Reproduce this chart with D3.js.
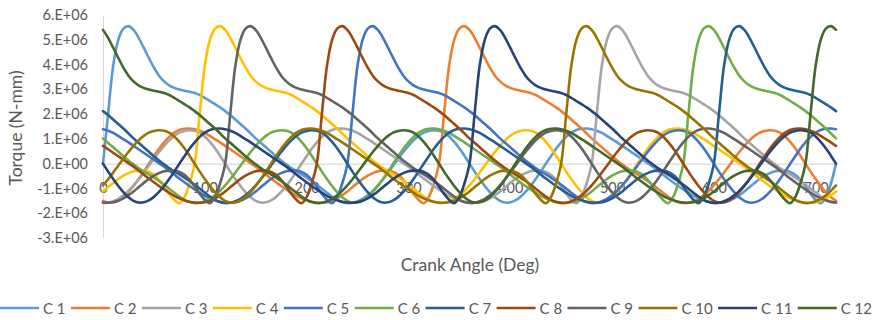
<!DOCTYPE html>
<html>
<head>
<meta charset="utf-8">
<script src="https://cdn.jsdelivr.net/npm/d3@7"></script>
<style>
  html, body { margin: 0; padding: 0; background: #ffffff; }
  svg { display: block; font-family: Lato, "Open Sans", "Noto Sans", sans-serif; }
</style>
</head>
<body>
<svg id="chart" width="877" height="320"></svg>
<script>
// Cylinder names and their series colours
const cylinders = ["C 1", "C 2", "C 3", "C 4", "C 5", "C 6", "C 7", "C 8", "C 9", "C 10", "C 11", "C 12"];
const seriesColors = ["#5B9BD5", "#ED7D31", "#A5A5A5", "#FFC000", "#4472C4", "#70AD47",
                      "#255E91", "#9E480E", "#636363", "#997300", "#264478", "#43682B"];

// Firing TDC of each cylinder (deg crank angle), same order as cylinders
const firingAngles = [0, 330, 480, 90, 240, 570, 600, 210, 120, 450, 360, 690];

// Single-cylinder torque over one 720 deg cycle, every 5 deg from firing TDC (x 1e6 N-mm)
const profileStep = 5;
const torqueProfile = [
   0.00,  2.00,  3.95,  5.00,  5.45,  5.55,  5.40,  5.08,  4.68,  4.27,  3.88,  3.55,
   3.32,  3.16,  3.06,  2.99,  2.94,  2.90,  2.85,  2.77,  2.66,  2.53,  2.40,  2.27,
   2.12,  1.96,  1.78,  1.60,  1.42,  1.22,  1.02,  0.84,  0.66,  0.48,  0.30,  0.13,
  -0.03, -0.18, -0.31, -0.43, -0.56, -0.70, -0.85, -1.01, -1.17, -1.33, -1.46, -1.55,
  -1.59, -1.58, -1.52, -1.42, -1.28, -1.10, -0.88, -0.63, -0.36, -0.08,  0.20,  0.47,
   0.72,  0.94,  1.12,  1.25,  1.32,  1.35,  1.33,  1.25,  1.10,  0.88,  0.62,  0.32,
   0.00, -0.32, -0.62, -0.90, -1.15, -1.36, -1.50, -1.57, -1.56, -1.48, -1.34, -1.14,
  -0.90, -0.62, -0.32,  0.00,  0.30,  0.60,  0.86,  1.08,  1.25,  1.36,  1.41,  1.42,
   1.39,  1.33,  1.24,  1.12,  0.99,  0.86,  0.72,  0.58,  0.44,  0.30,  0.16,  0.02,
  -0.12, -0.28, -0.44, -0.60, -0.75, -0.90, -1.04, -1.17, -1.30, -1.40, -1.48, -1.54,
  -1.57, -1.58, -1.56, -1.50, -1.40, -1.27, -1.12, -0.95, -0.78, -0.62, -0.48, -0.38,
  -0.31, -0.28, -0.28, -0.33, -0.45, -0.65, -0.92, -1.22, -1.46, -1.60, -1.35, -0.80
];
const torqueUnit = 1e6;

// Crank angles plotted on the x axis
const crankAngles = d3.range(0, 721, profileStep);

// Axis ticks
const xTickValues = [0, 100, 200, 300, 400, 500, 600, 700];
const yTickValues = [-3e6, -2e6, -1e6, 0, 1e6, 2e6, 3e6, 4e6, 5e6, 6e6];
const yTickLabels = ["-3.E+06", "-2.E+06", "-1.E+06", "0.E+00", "1.E+06",
                     "2.E+06", "3.E+06", "4.E+06", "5.E+06", "6.E+06"];

const xTitle = "Crank Angle (Deg)";
const yTitle = "Torque (N-mm)";

// ---- build series ----
const series = cylinders.map((name, i) => ({
  name,
  color: seriesColors[i],
  values: crankAngles.map(a => {
    const rel = ((a - firingAngles[i]) % 720 + 720) % 720;
    return { angle: a, torque: torqueProfile[rel / profileStep] * torqueUnit };
  })
}));

// ---- scales ----
const svg = d3.select("#chart");
const textColor = "#595959";
const axisColor = "#D9D9D9";
const fontStack = "Lato, 'Open Sans', sans-serif";

const x = d3.scaleLinear().domain([0, 720]).range([103, 836]);
const y = d3.scaleLinear().domain([-3e6, 6e6]).range([238, 15]);

// ---- y axis ----
const yAxis = svg.append("g")
  .attr("transform", `translate(${x(0)},0)`)
  .call(d3.axisLeft(y).tickValues(yTickValues)
    .tickFormat((d, i) => yTickLabels[i]).tickSize(0).tickPadding(15));
yAxis.select(".domain").attr("stroke", axisColor).attr("stroke-width", 1);
yAxis.selectAll("text").attr("fill", textColor).style("font-size", "14.5px")
  .style("font-family", fontStack);

// ---- x axis (crosses at zero) ----
const xAxis = svg.append("g")
  .attr("transform", `translate(0,${y(0)})`)
  .call(d3.axisBottom(x).tickValues(xTickValues).tickFormat(d3.format("d"))
    .tickSize(0).tickPadding(19));
xAxis.select(".domain").attr("stroke", axisColor).attr("stroke-width", 1.3);
xAxis.selectAll("text").attr("fill", textColor).style("font-size", "14.5px")
  .style("font-family", fontStack);

// ---- torque curves ----
const line = d3.line()
  .x(d => x(d.angle))
  .y(d => y(d.torque))
  .curve(d3.curveCatmullRom.alpha(0.5));

svg.append("g").selectAll("path")
  .data(series)
  .join("path")
  .attr("fill", "none")
  .attr("stroke", d => d.color)
  .attr("stroke-width", 2.6)
  .attr("stroke-linejoin", "round")
  .attr("stroke-linecap", "round")
  .attr("d", d => line(d.values));

// ---- axis titles ----
svg.append("text")
  .attr("transform", "translate(15,128) rotate(-90)")
  .attr("text-anchor", "middle")
  .attr("dominant-baseline", "central")
  .attr("fill", textColor)
  .style("font-size", "17.5px")
  .text(yTitle);

svg.append("text")
  .attr("x", 470).attr("y", 264)
  .attr("text-anchor", "middle")
  .attr("dominant-baseline", "central")
  .attr("fill", textColor)
  .style("font-size", "17.5px")
  .text(xTitle);

// ---- legend ----
const legend = svg.append("g").attr("transform", "translate(0,308)");
const swatch = 39, gapText = 4;
const legendLeft = 0, legendRight = 872;
const items = legend.selectAll("g").data(series).join("g");
items.append("line")
  .attr("x1", 0).attr("x2", swatch).attr("y1", 0).attr("y2", 0)
  .attr("stroke", d => d.color).attr("stroke-width", 2.6);
items.append("text")
  .attr("x", swatch + gapText).attr("y", 0)
  .attr("dominant-baseline", "central")
  .attr("fill", textColor)
  .style("font-size", "15px")
  .text(d => d.name);

const widths = [];
items.each(function () {
  widths.push(swatch + gapText + d3.select(this).select("text").node().getComputedTextLength());
});
const gapItem = (legendRight - legendLeft - d3.sum(widths)) / (widths.length - 1);
let cursor = legendLeft;
items.attr("transform", (d, i) => {
  const t = `translate(${cursor},0)`;
  cursor += widths[i] + gapItem;
  return t;
});
</script>
</body>
</html>
